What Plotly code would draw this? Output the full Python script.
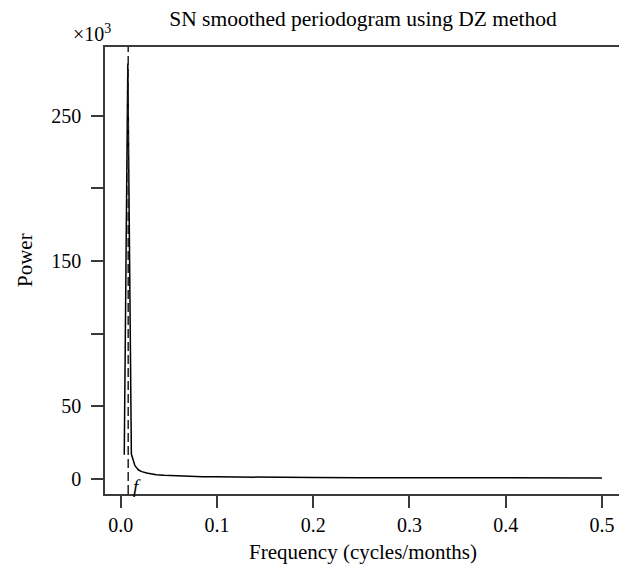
import plotly.graph_objects as go

# Data (power in thousands)
freq = [0.0037, 0.0074, 0.0111, 0.0148, 0.0185, 0.022, 0.027, 0.032, 0.037, 0.045,
        0.057, 0.07, 0.085, 0.1, 0.113, 0.13, 0.15, 0.2, 0.25, 0.3, 0.4, 0.5]
power = [16.5, 286, 17, 9, 6.0, 4.9, 4.0, 3.3, 2.8, 2.4,
         2.0, 1.7, 1.45, 1.3, 1.2, 1.1, 1.0, 0.85, 0.75, 0.7, 0.62, 0.58]
peak_freq = 0.0078
x_ticks = [0.0, 0.1, 0.2, 0.3, 0.4, 0.5]
x_tick_labels = ["0.0", "0.1", "0.2", "0.3", "0.4", "0.5"]
y_ticks = [0, 50, 100, 150, 200, 250]
y_tick_labels = ["0", "50", "", "150", "", "250"]

FONT = "Liberation Serif, Times New Roman, serif"
AX = "#3a3a3a"
OFF = 8  # page body margin
W, H = 627 - OFF, 566 - OFF
L, T = 105 - OFF, 47 - OFF
R, B = W - (621 - OFF), H - (494 - OFF)
PW, PH = W - L - R, H - T - B


def px_x(px):
    return (px - OFF - L) / PW


def px_y(py):
    return 1 - (py - OFF - T) / PH


fig = go.Figure()
fig.add_trace(go.Scatter(x=freq, y=power, mode="lines",
                         line=dict(color="black", width=1.5),
                         showlegend=False, hoverinfo="skip"))

fig.add_shape(type="line", xref="x", yref="paper", x0=peak_freq, x1=peak_freq,
              y0=0, y1=1, line=dict(color="#222222", width=1.5, dash="9px,4px"))

fig.add_annotation(x=0.0165, y=-5.5, xref="x", yref="y", text="<i>f</i>",
                   showarrow=False, font=dict(family=FONT, size=19, color="black"))
fig.add_annotation(x=px_x(92), y=px_y(33), xref="paper", yref="paper",
                   text="×10<sup>3</sup>", xanchor="center", yanchor="middle",
                   showarrow=False, font=dict(family=FONT, size=20, color="black"))
fig.add_annotation(x=0.5, y=px_y(552), xref="paper", yref="paper",
                   text="Frequency (cycles/months)", xanchor="center", yanchor="middle",
                   showarrow=False, font=dict(family=FONT, size=21, color="black"))
fig.add_annotation(x=px_x(25), y=px_y(260), xref="paper", yref="paper",
                   text="Power", textangle=-90, xanchor="center", yanchor="middle",
                   showarrow=False, font=dict(family=FONT, size=21, color="black"))

fig.update_layout(
    width=W, height=H,
    margin=dict(l=L, r=R, t=T, b=B),
    paper_bgcolor="white", plot_bgcolor="white",
    title=dict(text="SN smoothed periodogram using DZ method",
               x=(363 - OFF) / W, xanchor="center", xref="container",
               y=1 - (18 - OFF) / H, yanchor="middle",
               font=dict(family=FONT, size=21.5, color="black")),
    font=dict(family=FONT, size=20, color="black"),
    xaxis=dict(range=[-0.0163, 0.5198], tickvals=x_ticks, ticktext=x_tick_labels,
               showgrid=False, zeroline=False, showline=True, mirror=True,
               linecolor=AX, linewidth=1.5, ticks="outside", ticklen=12,
               tickwidth=1.5, tickcolor=AX, automargin=False,
               tickfont=dict(family=FONT, size=20)),
    yaxis=dict(range=[-10.5, 297.3], tickvals=y_ticks, ticktext=y_tick_labels,
               showgrid=False, zeroline=False, showline=True, mirror=True,
               linecolor=AX, linewidth=1.5, ticks="outside", ticklen=12,
               tickwidth=1.5, tickcolor=AX, automargin=False,
               ticklabelstandoff=6,
               tickfont=dict(family=FONT, size=20)),
)

fig.write_html("out.html")
